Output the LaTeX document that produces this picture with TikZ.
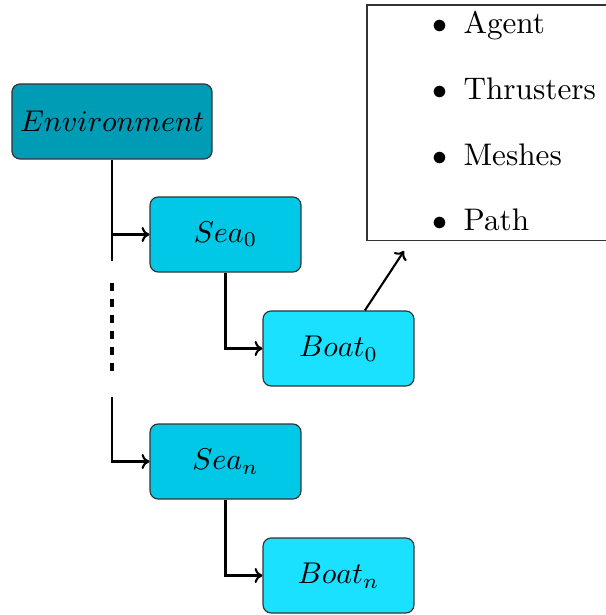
\documentclass[tikz,border=0pt]{standalone}
\usetikzlibrary{arrows.meta}
\definecolor{envfill}{RGB}{0,155,180}
\definecolor{seafill}{RGB}{0,200,230}
\definecolor{boatfill}{RGB}{25,225,255}
\begin{document}
\begin{tikzpicture}[x=0.3333pt,y=-0.3333pt,
  block/.style={draw=black!80, rounded corners=2.7pt, inner sep=0pt,
    minimum width=50.3pt, minimum height=25pt},
  envblock/.style={block, fill=envfill, minimum width=66.7pt},
  seablock/.style={block, fill=seafill},
  boatblock/.style={block, fill=boatfill},
  link/.style={line width=0.7pt, -{To[length=2.6pt,width=5pt]}},
  faint/.style={line width=0.35pt},
  dots/.style={line width=1.3pt, dash pattern=on 2.67pt off 2.67pt},
  bulletmark/.style={inner sep=0pt, anchor=base, font=\fontsize{10.4}{12}\selectfont},
  entry/.style={inner sep=0pt, anchor=base west, font=\fontsize{10.4}{12}\selectfont}]
\useasboundingbox (0,0) rectangle (605,615);

% hierarchy blocks
\node[envblock]  (env)   at (112,121.5) {$Environment$};
\node[seablock]  (sea0)  at (225.5,234.5) {$Sea_0$};
\node[boatblock] (boat0) at (338.5,348.5) {$Boat_0$};
\node[seablock]  (sean)  at (225.5,461.5) {$Sea_n$};
\node[boatblock] (boatn) at (338.5,575.5) {$Boat_n$};

% component list of a boat (box open on the right)
\node[minimum width=79.3pt, minimum height=78pt, inner sep=0pt,
      anchor=north west] (parts) at (367,5) {};
\draw[line width=0.4pt, draw=black!80]
  (parts.north east) -- (parts.north west) -- (parts.south west) -- (parts.south east);
\node[bulletmark] (b1) at (440,34)  {$\bullet$};
\node[bulletmark] (b2) at (440,100) {$\bullet$};
\node[bulletmark] (b3) at (440,166) {$\bullet$};
\node[bulletmark] (b4) at (440,231) {$\bullet$};
\node[entry] (agent)     at (463,34)  {Agent};
\node[entry] (thrusters) at (463,100) {Thrusters};
\node[entry] (meshes)    at (463,166) {Meshes};
\node[entry] (pathitem)  at (463,231) {Path};

% helper points on the trunk
\coordinate (trunkend) at (112,261);
\coordinate (dotstop)  at (112,283);
\coordinate (dotsbot)  at (112,371);
\coordinate (resume)   at (112,397);
\coordinate (listtip)  at (404,251);

% connectors
\draw[link] (env.south) |- (sea0.west);
\draw[faint] (env.south |- sea0.west) -- (trunkend);
\draw[dots] (dotstop) -- (dotsbot);
\draw[link] (resume) |- (sean.west);
\draw[link] (sea0.south) |- (boat0.west);
\draw[link] (sean.south) |- (boatn.west);
\draw[link] ([xshift=8.8pt]boat0.north) -- (listtip);
\end{tikzpicture}
\end{document}
